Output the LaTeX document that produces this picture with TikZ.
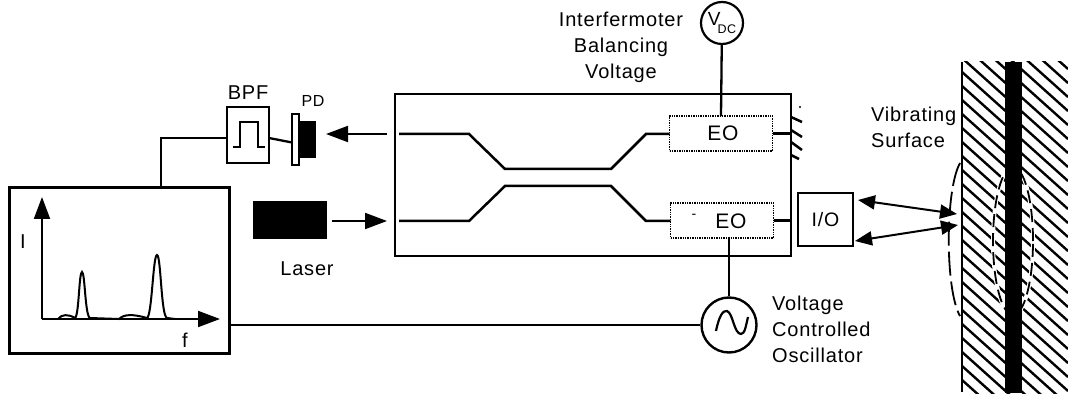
\documentclass[tikz,border=0pt]{standalone}
\usepackage{fontspec}
\setmainfont[LetterSpace=4]{Liberation Sans}
\usetikzlibrary{arrows.meta,positioning}
\begin{document}
\begin{tikzpicture}[x=1pt,y=-1pt,
    blockbox/.style={draw=black,line width=2.5pt,inner sep=0pt,outer sep=0pt,font=\fontsize{19.5}{20}\selectfont},
    eobox/.style={draw=black,line width=1.4pt,densely dotted,inner sep=0pt,outer sep=0pt,
      minimum width=103pt,minimum height=35pt},
    solidbox/.style={fill=black,inner sep=0pt,outer sep=0pt},
    lbl/.style={font=\fontsize{20}{26}\selectfont,align=center,inner sep=0pt},
    wire/.style={line width=2.3pt},
    guide/.style={line width=2.5pt},
    bigarrow/.style={line width=2pt,-{Triangle[length=22pt,width=16pt]}},
    twoway/.style={line width=2pt,{Triangle[length=17pt,width=14pt]}-{Triangle[length=17pt,width=14pt]}}
  ]
  \useasboundingbox (0,0) rectangle (1068,398);
  % target wall
  \begin{scope}
    \clip (962,62) rectangle (1068,393);
    \foreach \hy in {-40,-26,...,392}
      \draw[line width=2.4pt] (962,\hy) -- (1068,\hy+95);
  \end{scope}
  \draw[white,line width=4pt] (1013,241) ellipse [x radius=20pt,y radius=74pt];
  \draw[line width=1.8pt,dash pattern=on 13pt off 6pt] (1013,241) ellipse [x radius=20pt,y radius=74pt];
  \draw[line width=2.5pt] (962,62) -- (962,392);
  \node[solidbox,minimum width=17pt,minimum height=331pt] (plate) at (1013.5,227.5) {};
  \draw[line width=1.8pt,dash pattern=on 24pt off 6pt] (960,163) .. controls (945,190) and (945,290) .. (960,316);

  % spectrum box
  \node[blockbox,line width=3pt,minimum width=220pt,minimum height=165pt] (spec) at (119,270.5) {};
  \coordinate (origin) at (42,319);
  \coordinate (itop) at (42,197);
  \coordinate (fend) at (220,319);
  \draw[bigarrow] (origin) -- (itop);
  \draw[bigarrow] (origin) -- (fend);
  \draw[line width=2pt] (58,319) .. controls (62,314) and (68,314) .. (75,318)
    .. controls (79,316) and (79,272) .. (82,272) .. controls (85,272) and (85,316) .. (90,318)
    -- (119,319) .. controls (124,314) and (133,314) .. (147,318)
    .. controls (152,316) and (153,255) .. (157,255) .. controls (161,255) and (161,316) .. (167,318) -- (175,319);
  \node[lbl] (ilabel) at (23,242) {I};
  \node[lbl] (flabel) at (185,340) {f};

  % filter and detector
  \node[blockbox,minimum width=42pt,minimum height=56pt] (bpf) at (248,135) {};
  \draw[line width=2.2pt] (233,147) -- (240,147) -- (240,122) -- (258,122) -- (258,147) -- (265,147);
  \node[lbl,above=7pt of bpf] (bpflabel) {BPF};
  \node[blockbox,line width=2pt,minimum width=7pt,minimum height=51pt] (pdwin) at (295.5,139.5) {};
  \node[solidbox,minimum width=17pt,minimum height=37pt,right=0pt of pdwin] (pd) {};
  \node[lbl,font=\fontsize{16}{16}\selectfont] (pdlabel) at (313,101) {PD};
  \coordinate (tap) at (161,188);
  \draw[wire] (tap) |- ([yshift=-3pt]bpf.west);
  \draw[wire] ([yshift=-3pt]bpf.east) -- ([yshift=-3pt]pdwin.west);
  \coordinate (outa) at (387,134);
  \coordinate (outb) at (326,134);
  \draw[bigarrow] (outa) -- (outb);

  % laser
  \node[solidbox,minimum width=74pt,minimum height=38pt] (laser) at (290,220) {};
  \node[lbl] (laserlabel) at (307,269) {Laser};
  \coordinate (ina) at (332,221);
  \coordinate (inb) at (387,221);
  \draw[bigarrow] (ina) -- (inb);

  % interferometer
  \node[blockbox,minimum width=396pt,minimum height=162pt] (chip) at (593,175) {};
  \node[eobox] (eotop) at (721,133.5) {};
  \node[eobox] (eobot) at (722,220.5) {};
  \node[inner sep=0pt,font=\fontsize{21}{22}\selectfont] (eotoplabel) at (723,133) {EO};
  \node[inner sep=0pt,font=\fontsize{21}{22}\selectfont] (eobotlabel) at (731,221) {EO};
  \node[inner sep=0pt,font=\fontsize{14}{14}\selectfont] (eobottick) at (694,216) {-};
  \draw[guide] (399,134) -- (469,134) -- (505,169) -- (611,169) -- (646,134) -- (eotop.west |- 0,134);
  \draw[guide] (399,221) -- (469,221) -- (505,186) -- (611,186) -- (646,221) -- (eobot.west |- 0,221);
  \draw[wire] (eotop.east) -- (eotop.east -| chip.east);
  \draw[wire] (eobot.east) -- (eobot.east -| chip.east);
  % mirror marks
  \foreach \my/\mx/\mz in {117/802/122,130/802/137,142/802/150,155/799/159}
    \draw[line width=2.5pt] (791,\my) -- (\mx,\mz);
  \fill (800,107) circle (1.2pt);

  % bias source
  \node[draw=black,circle,line width=2.2pt,minimum size=42pt,inner sep=0pt] (vdc) at (722,23)
    {\fontsize{19}{19}\selectfont V\kern-3pt\raisebox{-8pt}{\fontsize{12.5}{12}\selectfont DC}};
  \draw[wire] (vdc) -- (eotop.north);
  \node[lbl,anchor=north] (vdclabel) at (621,12) {Interfermoter\\Balancing\\Voltage};

  % oscillator
  \node[draw=black,circle,line width=2.4pt,minimum size=55pt,inner sep=0pt] (vco) at (729,325) {};
  \draw[line width=2.2pt] (716,331) .. controls (719,316) and (723,310) .. (727,311)
    .. controls (733,313) and (734,334) .. (741,334) .. controls (745,334) and (746,325) .. (748,317);
  \draw[wire] (vco.north) -- (vco.north |- eobot.south);
  \draw[line width=2.8pt] (vco.west -| spec.east) -- (vco.west);
  \node[lbl,anchor=north west,align=left] (vcolabel) at (772,296) {Voltage\\Controlled\\Oscillator};

  % input output
  \node[blockbox,minimum width=55pt,minimum height=53pt] (io) at (825.5,219.5) {I/O};
  \coordinate (ioa) at (858,200);
  \coordinate (iob) at (855,241);
  \coordinate (walla) at (957,214);
  \coordinate (wallb) at (958,225);
  \draw[twoway] (ioa) -- (walla);
  \draw[twoway] (iob) -- (wallb);
  \node[lbl,anchor=north west,align=left] (surflabel) at (871,107) {Vibrating\\Surface};
\end{tikzpicture}
\end{document}
